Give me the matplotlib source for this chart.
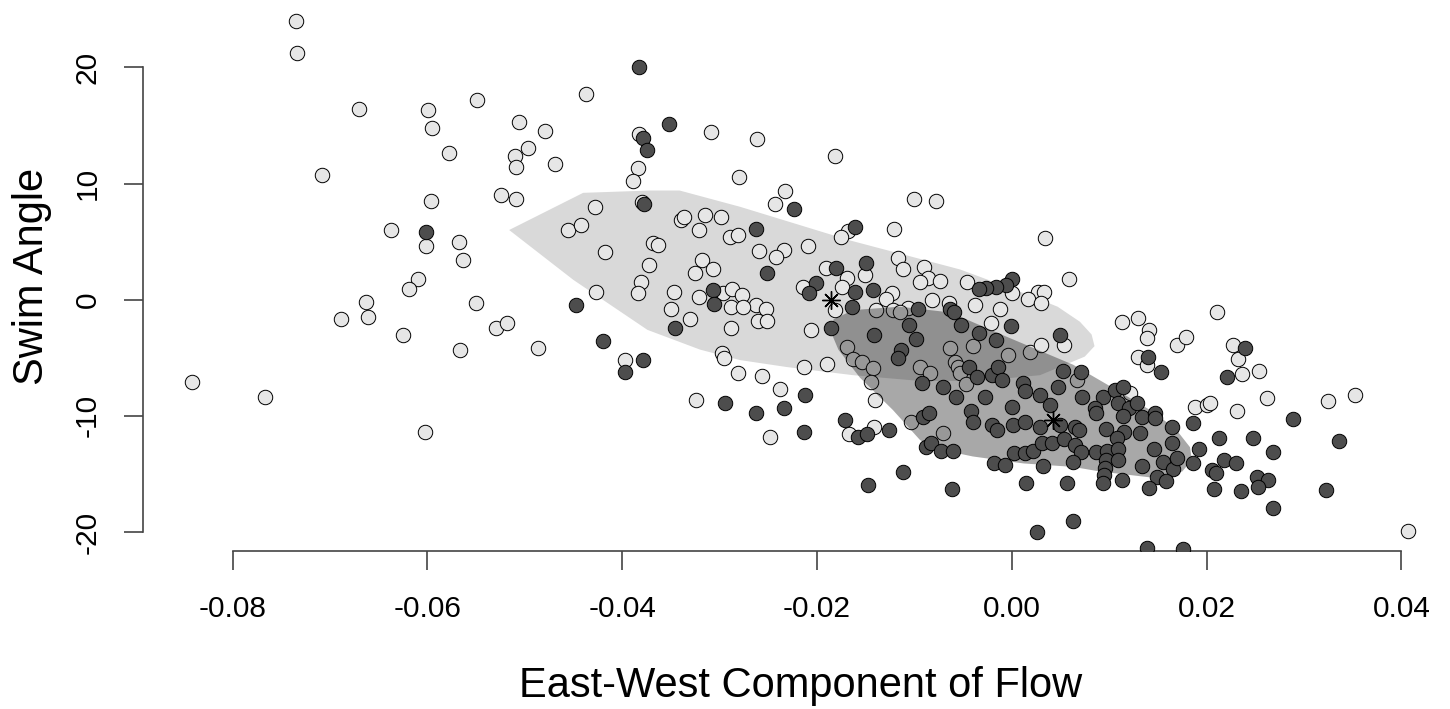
import numpy as np
import matplotlib
matplotlib.use("Agg")
import matplotlib.pyplot as plt
from matplotlib.patches import Polygon

# ------------------------------------------------------------------
# data
# ------------------------------------------------------------------
light_x = [-0.0735, -0.0734, -0.0670, -0.0599, -0.0595, -0.0578, -0.0708, -0.0549, -0.0596, -0.0637,
           -0.0601, -0.0567, -0.0563, -0.0610, -0.0619, -0.0663, -0.0689, -0.0661, -0.0625, -0.0550,
           -0.0566, -0.0842, -0.0767, -0.0602,
           -0.0437, -0.0309, -0.0506, -0.0479, -0.0497, -0.0510, -0.0509, -0.0469, -0.0383, -0.0384,
           -0.0389, -0.0280, -0.0524, -0.0509, -0.0380, -0.0428, -0.0456, -0.0442, -0.0340, -0.0336,
           -0.0315, -0.0298, -0.0321, -0.0289, -0.0281, -0.0418, -0.0368, -0.0363, -0.0372, -0.0318,
           -0.0307, -0.0325, -0.0381, -0.0384, -0.0347, -0.0296, -0.0287, -0.0427,
           -0.0321, -0.0288, -0.0350, -0.0330, -0.0288, -0.0529, -0.0518, -0.0486, -0.0397, -0.0297,
           -0.0295, -0.0281, -0.0324,
           -0.0262, -0.0181, -0.0233, -0.0243, -0.0100, -0.0078, -0.0168, -0.0175, -0.0121, -0.0259,
           -0.0234, -0.0242, -0.0209, -0.0117, -0.0112, -0.0090, -0.0086, -0.0094, -0.0074, -0.0082,
           -0.0151, -0.0191, -0.0169, -0.0214, -0.0174, -0.0123, -0.0129, -0.0181, -0.0139, -0.0122,
           -0.0064, -0.0277, -0.0263, -0.0276, -0.0252, -0.0107,
           -0.0260, -0.0251, -0.0206, -0.0115, -0.0169, -0.0163, -0.0154, -0.0142, -0.0145, -0.0094,
           -0.0084, -0.0063, -0.0058, -0.0055, -0.0256, -0.0213, -0.0190, -0.0238, -0.0248, -0.0141,
           -0.0167, -0.0140, -0.0103, -0.0071,
           0.0034, -0.0046, 0.0000, 0.0059, 0.0027, 0.0033, 0.0017, 0.0030, -0.0038, -0.0012,
           -0.0021, -0.0040, 0.0019, 0.0030, 0.0054, -0.0004, -0.0053, -0.0047, 0.0067, 0.0121,
           0.0113, 0.0130, 0.0141, 0.0139, 0.0130, 0.0139, 0.0170,
           0.0211, 0.0179, 0.0227, 0.0232, 0.0236, 0.0254, 0.0262, 0.0188, 0.0200, 0.0204,
           0.0231, 0.0325, 0.0352, 0.0407]
light_y = [24.0, 21.2, 16.4, 16.3, 14.8, 12.6, 10.7, 17.2, 8.5, 6.0,
           4.6, 5.0, 3.4, 1.8, 0.9, -0.2, -1.7, -1.5, -3.0, -0.3,
           -4.3, -7.1, -8.4, -11.4,
           17.7, 14.4, 15.3, 14.5, 13.1, 12.4, 11.4, 11.7, 14.3, 11.3,
           10.2, 10.6, 9.0, 8.7, 8.4, 8.0, 6.0, 6.4, 6.9, 7.1,
           7.3, 7.1, 6.0, 5.4, 5.6, 4.1, 4.9, 4.7, 3.0, 3.4,
           2.6, 2.3, 1.5, 0.6, 0.7, 0.6, 0.9, 0.7,
           0.2, -0.6, -0.8, -1.7, -2.4, -2.4, -2.0, -4.2, -5.2, -4.6,
           -5.0, -6.3, -8.6,
           13.8, 12.4, 9.4, 8.2, 8.7, 8.5, 5.9, 5.4, 6.1, 4.2,
           4.3, 3.7, 4.6, 3.6, 2.6, 2.8, 1.9, 1.5, 1.6, 0.0,
           2.1, 2.7, 1.9, 1.1, 1.1, 0.6, 0.1, -0.9, -0.9, -0.9,
           -0.3, 0.4, -0.5, -0.6, -0.8, -0.7,
           -1.8, -1.8, -2.6, -1.1, -4.1, -5.1, -5.4, -5.9, -7.1, -5.8,
           -6.3, -4.2, -5.4, -5.8, -6.6, -5.8, -5.5, -7.7, -11.8, -11.0,
           -11.6, -8.6, -10.5, -11.5,
           5.3, 1.5, 0.6, 1.8, 0.7, 0.7, 0.1, -0.3, -0.5, -0.8,
           -2.0, -4.0, -4.5, -3.9, -3.9, -4.8, -6.3, -7.3, -6.9, -8.0,
           -1.9, -1.6, -2.6, -3.3, -4.9, -5.6, -3.9,
           -1.1, -3.2, -3.9, -5.1, -6.4, -6.1, -8.5, -9.2, -9.1, -8.9,
           -9.6, -8.7, -8.2, -19.9]

dark_x = [-0.0601, -0.0383, -0.0352, -0.0379, -0.0374, -0.0378, -0.0307, -0.0306, -0.0346, -0.0447,
          -0.0420, -0.0379, -0.0397, -0.0294,
          -0.0224, -0.0263, -0.0161, -0.0251, -0.0150, -0.0180, -0.0201, -0.0208, -0.0161, -0.0142,
          -0.0164, -0.0096, -0.0063, -0.0059,
          -0.0186, -0.0105, -0.0098, -0.0141, -0.0114, -0.0117, -0.0092, -0.0071, -0.0057, -0.0212,
          -0.0263, -0.0234, -0.0213, -0.0171, -0.0158, -0.0149, -0.0126, -0.0091, -0.0085, -0.0088,
          -0.0083, -0.0073, -0.0060, -0.0112, -0.0148, -0.0061,
          0.0000, -0.0006, -0.0016, -0.0026, -0.0034, -0.0052, -0.0001, -0.0034, -0.0016, 0.0050,
          -0.0044, -0.0036, -0.0020, -0.0014, -0.0010, -0.0027, 0.0012, 0.0014, 0.0029, 0.0048,
          0.0053, 0.0071, 0.0072, 0.0094, 0.0106, 0.0114, 0.0140, 0.0153,
          -0.0042, -0.0040, -0.0020, -0.0015, 0.0000, 0.0001, 0.0014, 0.0039, 0.0029, 0.0050,
          0.0065, 0.0069, 0.0085, 0.0086, 0.0109, 0.0120, 0.0129, 0.0114, 0.0134, 0.0147,
          0.0147, 0.0097, 0.0115, 0.0132, 0.0165, 0.0165, 0.0108, -0.0018, -0.0007, 0.0002,
          0.0014, 0.0022, 0.0031, 0.0041, 0.0054, 0.0065, 0.0071, 0.0063, 0.0087, 0.0098,
          0.0109, 0.0097, 0.0109, 0.0096, 0.0095, 0.0094, 0.0113, 0.0032, 0.0015, 0.0057,
          0.0134, 0.0146, 0.0155, 0.0166, 0.0149, 0.0158, 0.0141, 0.0170, 0.0063, 0.0026,
          0.0139,
          0.0240, 0.0221, 0.0289, 0.0186, 0.0213, 0.0248, 0.0336, 0.0192, 0.0268, 0.0186,
          0.0218, 0.0230, 0.0206, 0.0210, 0.0252, 0.0263, 0.0253, 0.0208, 0.0235, 0.0323,
          0.0268, 0.0176]
dark_y = [5.8, 20.0, 15.1, 13.9, 12.9, 8.2, 0.8, -0.4, -2.4, -0.5,
          -3.6, -5.2, -6.2, -8.9,
          7.8, 6.1, 6.3, 2.3, 3.2, 2.7, 1.4, 0.6, 0.7, 0.8,
          -0.6, -0.8, -0.8, -1.1,
          -2.4, -2.2, -3.4, -3.0, -4.3, -5.0, -7.2, -7.5, -8.4, -8.2,
          -9.8, -9.3, -11.4, -10.4, -11.8, -11.6, -11.2, -10.1, -9.8, -12.7,
          -12.3, -13.0, -13.0, -14.8, -16.0, -16.3,
          1.8, 1.3, 1.1, 1.0, 0.9, -2.2, -2.3, -2.9, -3.5, -3.0,
          -5.8, -6.7, -6.5, -5.8, -6.9, -8.4, -7.2, -7.9, -8.2, -7.5,
          -6.1, -6.2, -8.4, -8.4, -7.8, -7.5, -4.9, -6.2,
          -9.6, -10.5, -10.8, -11.2, -9.2, -10.8, -10.5, -9.1, -11.0, -10.8,
          -11.0, -11.2, -9.3, -9.8, -8.9, -9.3, -8.9, -10.0, -10.1, -9.8,
          -10.2, -11.1, -11.4, -11.5, -11.0, -12.3, -11.9, -14.1, -14.2, -13.2,
          -13.2, -13.0, -12.3, -12.3, -12.0, -12.5, -13.1, -14.0, -13.1, -13.0,
          -12.9, -13.8, -13.8, -14.5, -15.1, -15.8, -15.5, -14.3, -15.8, -15.8,
          -14.3, -12.9, -14.0, -14.6, -15.3, -15.6, -16.2, -13.6, -19.1, -20.0,
          -21.4,
          -4.2, -6.7, -10.3, -10.6, -11.9, -11.9, -12.2, -12.9, -13.1, -14.1,
          -13.8, -14.1, -14.7, -14.9, -15.3, -15.5, -16.1, -16.3, -16.5, -16.4,
          -17.9, -21.5]

# bag outlines
light_bag_x = [-0.0516, -0.0440, -0.0371, -0.0341, -0.0279, -0.0166, -0.0053, 0.0005, 0.0047, 0.0070,
               0.0082, 0.0085, 0.0075, 0.0055, 0.0029, -0.0033, -0.0094, -0.0163, -0.0231, -0.0279,
               -0.0320, -0.0374, -0.0450]
light_bag_y = [6.0, 9.2, 9.4, 9.4, 8.0, 5.1, 2.6, 0.8, -0.6, -1.9,
               -3.0, -4.0, -4.9, -5.6, -6.5, -7.0, -7.0, -6.5, -5.8, -5.2,
               -4.3, -2.6, 1.7]
dark_bag_x = [-0.0183, -0.0163, -0.0115, -0.0063, -0.0005, 0.0063, 0.0104, 0.0142, 0.0168, 0.0183,
              0.0185, 0.0175, 0.0142, 0.0091, 0.0063, 0.0012, -0.0040, -0.0074, -0.0094, -0.0122,
              -0.0156, -0.0178, -0.0185]
dark_bag_y = [-1.7, -0.9, -0.6, -1.1, -3.2, -5.6, -7.6, -9.5, -11.1, -12.7,
              -13.8, -14.8, -15.3, -14.8, -14.4, -14.1, -13.5, -12.9, -12.1, -9.5,
              -6.7, -4.3, -2.9]

light_median = (-0.0186, 0.0)
dark_median = (0.0042, -10.4)

x_ticks = [-0.08, -0.06, -0.04, -0.02, 0.00, 0.02, 0.04]
x_tick_labels = ["-0.08", "-0.06", "-0.04", "-0.02", "0.00", "0.02", "0.04"]
y_ticks = [-20, -10, 0, 10, 20]

# ------------------------------------------------------------------
plt.rcParams['font.family'] = ['Liberation Sans', 'DejaVu Sans']

fig = plt.figure(figsize=(14.5, 7.09), dpi=100)
ax = fig.add_axes([0.0986, 0.2226, 0.9061, 0.7766])

# R-style limits: range of the first group + 4 %
lx = np.array(light_x)
ly = np.array(light_y)
rx = lx.max() - lx.min()
ry = ly.max() - ly.min()
ax.set_xlim(lx.min() - 0.04 * rx, lx.max() + 0.04 * rx)
ax.set_ylim(ly.min() - 0.04 * ry, ly.max() + 0.04 * ry)

ax.add_patch(Polygon(np.column_stack([light_bag_x, light_bag_y]), closed=True,
                     facecolor='#d9d9d9', edgecolor='none', zorder=1))
ax.plot(light_x, light_y, 'o', ms=10.4, mfc='#e6e6e6', mec='black', mew=0.7, zorder=2)

ax.add_patch(Polygon(np.column_stack([dark_bag_x, dark_bag_y]), closed=True,
                     facecolor='#141414', alpha=0.37, edgecolor='none', zorder=3))
ax.plot(dark_x, dark_y, 'o', ms=10.4, mfc='#4d4d4d', mec='black', mew=0.7, zorder=4)

ax.plot(*light_median, marker=(8, 2, 0), ms=13, mec='black', mew=1.0, zorder=5)
ax.plot(*dark_median, marker=(8, 2, 0), ms=13, mec='black', mew=1.0, zorder=5)

# axes, R look
for side in ['top', 'right']:
    ax.spines[side].set_visible(False)
ax.spines['left'].set_bounds(-20, 20)
ax.spines['bottom'].set_bounds(-0.08, 0.04)
for side in ['left', 'bottom']:
    ax.spines[side].set_color('#444444')
    ax.spines[side].set_linewidth(1.2)

ax.set_xticks(x_ticks)
ax.set_xticklabels(x_tick_labels)
ax.set_yticks(y_ticks)
ax.set_yticklabels([str(v) for v in y_ticks], rotation=90, va='center')
ax.tick_params(direction='out', length=13.7, width=1.2, color='#444444',
               labelsize=21.5)
ax.tick_params(axis='x', pad=18)
ax.tick_params(axis='y', pad=16)

fig.text(801 / 1450, 1 - 697 / 709, 'East-West Component of Flow', fontsize=30,
         ha='center', va='baseline')
fig.text(43 / 1450, 1 - 276 / 709, 'Swim Angle', fontsize=30, rotation=90,
         rotation_mode='anchor', ha='center', va='baseline')

fig.savefig('out.png', dpi=100)
